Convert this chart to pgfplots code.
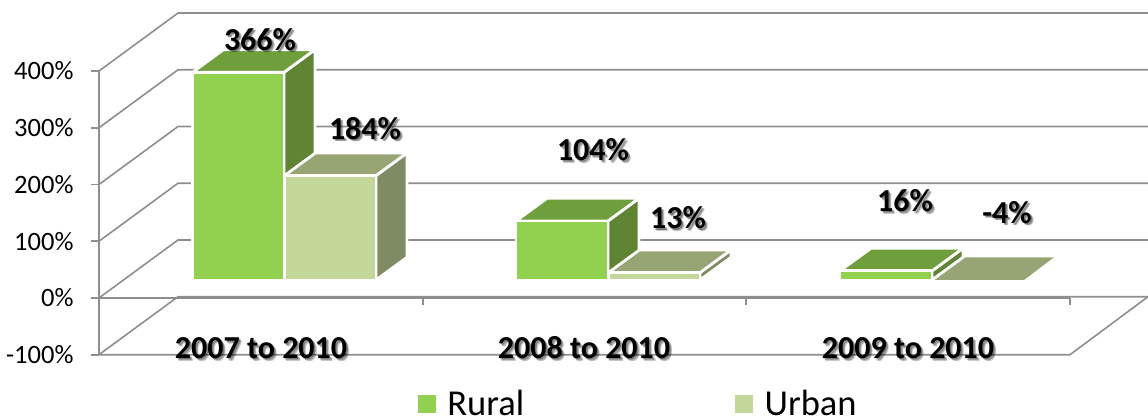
\documentclass[border=0pt]{standalone}
\usepackage{fontspec}
\setmainfont{Carlito}
\usepackage{pgfplots}
\usetikzlibrary{fadings}
\pgfplotsset{compat=1.18}
\definecolor{gridc}{HTML}{8E8E8E}
\definecolor{rf}{HTML}{92D050}
\definecolor{rt}{HTML}{6E9F3C}
\definecolor{rs}{HTML}{5E8434}
\definecolor{uf}{HTML}{C4D79B}
\definecolor{ut}{HTML}{97A575}
\definecolor{us}{HTML}{7F8B62}
\newcommand\labfont{\fontsize{32}{32}\selectfont\bfseries}
\newcommand\defshadow[2]{%
  \begin{tikzfadingfrompicture}[name=#1]
  \path (-110pt,-30pt) rectangle (110pt,30pt);
  \node[anchor=base,text=transparent!0,font=\labfont,inner sep=0pt] at (0,0) {#2};
  \end{tikzfadingfrompicture}}
\defshadow{sa}{366\%}
\defshadow{sb}{184\%}
\defshadow{sc}{104\%}
\defshadow{sd}{13\%}
\defshadow{se}{16\%}
\defshadow{sf}{-4\%}
\defshadow{sg}{2007 to 2010}
\defshadow{sh}{2008 to 2010}
\defshadow{si}{2009 to 2010}
\newcommand\shadowstep[4]{%
  \fill[black,opacity=.22,path fading=#1,fit fading=false,
        fading transform={shift={(axis cs:#2,#3)},shift={(#4,-#4)}}]
    ([shift={(-110pt+#4,-30pt-#4)}]axis cs:#2,#3) rectangle ([shift={(110pt+#4,30pt-#4)}]axis cs:#2,#3);}
\newcommand\lab[4]{%
  \shadowstep{#4}{#1}{#2}{1.2pt}
  \shadowstep{#4}{#1}{#2}{2pt}
  \shadowstep{#4}{#1}{#2}{2.8pt}
  \node[anchor=base,font=\labfont,inner sep=0pt] at (axis cs:#1,#2) {#3};}
\begin{document}
\begin{tikzpicture}
\path[use as bounding box] (0,0) rectangle (1148pt,415pt);
\begin{axis}[
  at={(99pt,60.3pt)}, anchor=south west,
  scale only axis, width=1049pt, height=341.9pt,
  xmin=99, xmax=1148, ymin=-100, ymax=502.6,
  clip=false,
  axis x line=none,
  axis y line*=left,
  y axis line style={draw=none},
  ytick={-100,0,100,200,300,400},
  tick align=outside,
  major tick length=8pt,
  tick style={gridc,line width=1.6pt},
  yticklabel={\pgfmathprintnumber{\tick}\%},
  /pgf/number format/assume math mode=true,
  tick label style={font=\fontsize{26.5}{26.5}\selectfont, text=black},
  yticklabel style={xshift=-14pt},
  legend columns=2,
  legend style={at={(axis cs:418,-214)}, anchor=south west, draw=none, fill=none,
    inner sep=0pt, outer sep=0pt, font=\fontsize{36.5}{36.5}\selectfont,
    /tikz/every even column/.append style={column sep=209pt}},
  legend image code/.code={\fill[#1] (0pt,-8pt) rectangle (17pt,9pt); \path (27pt,0pt);},
]
\addlegendimage{rf}\addlegendentry{Rural}
\addlegendimage{uf}\addlegendentry{Urban}
% walls and floor
\pgfplotsset{every axis plot post/.append style={forget plot}}
\addplot[gridc,line width=1.6pt] coordinates {(99,400)(178,502.2)(1148,502.2)};
\addplot[gridc,line width=1.6pt] coordinates {(99,300)(178,402.2)(1148,402.2)};
\addplot[gridc,line width=1.6pt] coordinates {(99,200)(178,302.2)(1148,302.2)};
\addplot[gridc,line width=1.6pt] coordinates {(99,100)(178,202.2)(1148,202.2)};
\addplot[gridc,line width=1.6pt] coordinates {(99,0)(178,102.2)(1148,102.2)};
\addplot[gridc,line width=1.6pt] coordinates {(99,-100)(178,2.2)(1148,2.2)};
\addplot[gridc,line width=1.6pt] coordinates {(99,-100)(1070,-100)(1148,2.2)};
\addplot[gridc,line width=2pt] coordinates {(99,0)(1070,0)};
\addplot[gridc,line width=1.8pt] coordinates {(99,400)(99,-100)};
\addplot[gridc,line width=1.8pt] coordinates {(422.7,0)(422.7,-12)};
\addplot[gridc,line width=1.8pt] coordinates {(746.3,0)(746.3,-12)};
\addplot[gridc,line width=1.8pt] coordinates {(1070,0)(1070,-12)};
% bars: front face rises from base 31.7 by the value; depth offset (31, 40)
\pgfplotsset{bar/.style={draw=white,line width=2.8pt,line join=round,fill=#1}}
% 2007 to 2010: Rural 366, Urban 184
\addplot[bar=rs] coordinates {(284,397.7)(315,437.7)(315,71.7)(284,31.7)} --cycle;
\addplot[bar=rt] coordinates {(192.5,397.7)(223.5,437.7)(315,437.7)(284,397.7)} --cycle;
\addplot[bar=rf] coordinates {(192.5,31.7)(284,31.7)(284,397.7)(192.5,397.7)} --cycle;
\addplot[bar=us] coordinates {(376,215.7)(407,255.7)(407,71.7)(376,31.7)} --cycle;
\addplot[bar=ut] coordinates {(284.5,215.7)(315.5,255.7)(407,255.7)(376,215.7)} --cycle;
\addplot[bar=uf] coordinates {(284.5,31.7)(376,31.7)(376,215.7)(284.5,215.7)} --cycle;
% 2008 to 2010: Rural 104, Urban 13
\addplot[bar=rs] coordinates {(608,135.7)(639,175.7)(639,71.7)(608,31.7)} --cycle;
\addplot[bar=rt] coordinates {(516,135.7)(547,175.7)(639,175.7)(608,135.7)} --cycle;
\addplot[bar=rf] coordinates {(516,31.7)(608,31.7)(608,135.7)(516,135.7)} --cycle;
\addplot[bar=us] coordinates {(700,44.7)(731,84.7)(731,71.7)(700,31.7)} --cycle;
\addplot[bar=ut] coordinates {(608.5,44.7)(639.5,84.7)(731,84.7)(700,44.7)} --cycle;
\addplot[bar=uf] coordinates {(608.5,31.7)(700,31.7)(700,44.7)(608.5,44.7)} --cycle;
% 2009 to 2010: Urban -4 (top face at zero level), Rural 16
\addplot[fill=ut,draw=none] coordinates {(934,31.7)(965,71.7)(1054,71.7)(1024,31.7)} --cycle;
\addplot[bar=rs] coordinates {(932,47.7)(963,87.7)(963,71.7)(932,31.7)} --cycle;
\addplot[bar=rt] coordinates {(840,47.7)(871,87.7)(963,87.7)(932,47.7)} --cycle;
\addplot[bar=rf] coordinates {(840,31.7)(932,31.7)(932,47.7)(840,47.7)} --cycle;
% labels
\lab{260}{437}{366\%}{sa}
\lab{365}{280}{184\%}{sb}
\lab{593}{242}{104\%}{sc}
\lab{678}{121.6}{13\%}{sd}
\lab{905}{152}{16\%}{se}
\lab{1007}{132}{-4\%}{sf}
\lab{261}{-107}{2007 to 2010}{sg}
\lab{584}{-107}{2008 to 2010}{sh}
\lab{908}{-107}{2009 to 2010}{si}
\end{axis}
\end{tikzpicture}
\end{document}
